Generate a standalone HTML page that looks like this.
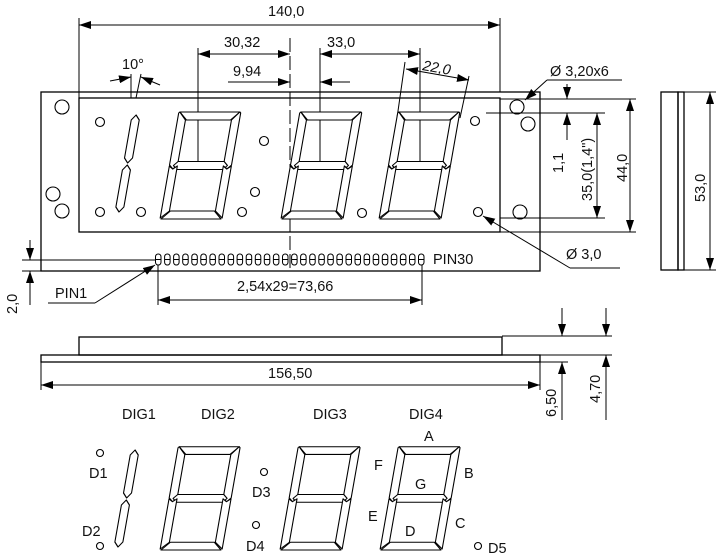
<!DOCTYPE html>
<html><head><meta charset="utf-8"><style>
html,body{margin:0;padding:0;background:#fff}
svg{display:block}
text{font-family:"Liberation Sans",Arial,sans-serif;fill:#111}
</style></head><body>
<svg width="716" height="558" viewBox="0 0 716 558" xmlns="http://www.w3.org/2000/svg">
<defs>
<marker id="ar" viewBox="0 0 12 8" refX="12" refY="4" markerWidth="12" markerHeight="8" markerUnits="userSpaceOnUse" orient="auto-start-reverse"><path d="M0,0L12,4L0,8z" fill="#000"/></marker>
<g id="dig" fill="#fff" stroke="#000" stroke-width="1.1" stroke-linejoin="round">
<polygon points="1,-107 61,-107 53,-99 9,-99"/>
<polygon points="61,-107 62,-106 62,-54 58,-50 54,-54 54,-99"/>
<polygon points="0,-106 1,-107 8,-99 8,-54 4,-50 0,-54"/>
<polygon points="4,-53.5 8,-57.5 54,-57.5 58,-53.5 54,-49.5 8,-49.5"/>
<polygon points="0,-53 4,-50 8,-53 8,-8 0,-1"/>
<polygon points="62,-53 58,-50 54,-53 54,-8 62,-1"/>
<polygon points="1,0 61,0 53,-8 9,-8"/>
</g>
<g id="one" fill="#fff" stroke="#000" stroke-width="1.1" stroke-linejoin="round">
<polygon points="4,-97 8,-92 8,-54 4,-49 0,-54 0,-92"/>
<polygon points="4,-47 8,-42 8,-5 4,0 0,-5 0,-42"/>
</g>
</defs>
<g fill="none" stroke="#000" stroke-width="1">
<rect x="41" y="92" width="499" height="179" stroke-width="1.3"/>
<rect x="79" y="98" width="421" height="134" stroke-width="1.3"/>
<line x1="290" y1="38" x2="290" y2="272" stroke-dasharray="14,4"/>
<g stroke-width="1.1">
<circle cx="100" cy="122" r="4.5"/><circle cx="264" cy="141" r="4.5"/><circle cx="100" cy="212" r="4.5"/>
<circle cx="141" cy="212" r="4.5"/><circle cx="255" cy="192" r="4.5"/><circle cx="242" cy="212" r="4.5"/>
<circle cx="362" cy="213" r="4.5"/><circle cx="475" cy="121" r="4.5"/><circle cx="478" cy="212" r="4.5"/>
<circle cx="62" cy="107" r="7"/><circle cx="53" cy="194" r="7"/><circle cx="62" cy="211" r="7"/>
<circle cx="517" cy="107" r="7"/><circle cx="528" cy="124" r="7"/><circle cx="520" cy="212" r="7"/>
</g>
<line x1="79" y1="18" x2="79" y2="98"/><line x1="500" y1="18" x2="500" y2="92"/>
<line x1="79" y1="25" x2="500" y2="25" marker-start="url(#ar)" marker-end="url(#ar)"/>
<line x1="198" y1="48" x2="198" y2="164"/>
<line x1="198" y1="54" x2="290" y2="54" marker-start="url(#ar)" marker-end="url(#ar)"/>
<line x1="228" y1="82" x2="290" y2="82" marker-end="url(#ar)"/>
<line x1="320" y1="48" x2="320" y2="164"/><line x1="420" y1="48" x2="420" y2="164"/>
<line x1="320" y1="54" x2="420" y2="54" marker-start="url(#ar)" marker-end="url(#ar)"/>
<line x1="350" y1="82" x2="320" y2="82" marker-end="url(#ar)"/>
<line x1="405" y1="62" x2="397" y2="118"/><line x1="469" y1="76" x2="460" y2="118"/>
<line x1="406" y1="69" x2="469" y2="80" marker-start="url(#ar)" marker-end="url(#ar)"/>
<line x1="131" y1="74" x2="131" y2="98"/><line x1="141" y1="74" x2="136" y2="98"/>
<line x1="110" y1="81" x2="131" y2="77" marker-end="url(#ar)"/>
<line x1="160" y1="85" x2="141" y2="77" marker-end="url(#ar)"/>
<line x1="547" y1="80" x2="622" y2="80"/><line x1="547" y1="80" x2="525" y2="100" marker-end="url(#ar)"/>
<line x1="500" y1="99" x2="636" y2="99"/><line x1="486" y1="113" x2="605" y2="113"/>
<line x1="500" y1="218" x2="605" y2="218"/><line x1="500" y1="232" x2="636" y2="232"/>
<line x1="567" y1="84" x2="567" y2="99" marker-end="url(#ar)"/>
<line x1="567" y1="140" x2="567" y2="113" marker-end="url(#ar)"/>
<line x1="597" y1="113" x2="597" y2="218" marker-start="url(#ar)" marker-end="url(#ar)"/>
<line x1="630" y1="99" x2="630" y2="232" marker-start="url(#ar)" marker-end="url(#ar)"/>
<line x1="620" y1="268" x2="570" y2="268"/><line x1="570" y1="268" x2="483" y2="216" marker-end="url(#ar)"/>
<rect x="661" y="92" width="17" height="178" stroke-width="1.3"/>
<rect x="678" y="92" width="6" height="178" stroke-width="1.3"/>
<line x1="684" y1="92" x2="716" y2="92"/><line x1="684" y1="270" x2="716" y2="270"/>
<line x1="710" y1="92" x2="710" y2="270" marker-start="url(#ar)" marker-end="url(#ar)"/>
<line x1="22" y1="260" x2="155" y2="260"/><line x1="22" y1="271" x2="41" y2="271"/>
<line x1="30" y1="240" x2="30" y2="260" marker-end="url(#ar)"/>
<line x1="30" y1="305" x2="30" y2="271" marker-end="url(#ar)"/>
<line x1="48" y1="303" x2="95" y2="303"/><line x1="95" y1="303" x2="155" y2="265" marker-end="url(#ar)"/>
<line x1="158" y1="265" x2="158" y2="305"/><line x1="422" y1="265" x2="422" y2="305"/>
<line x1="158" y1="300" x2="422" y2="300" marker-start="url(#ar)" marker-end="url(#ar)"/>
<rect x="79" y="337" width="423" height="18" stroke-width="1.3"/>
<rect x="41" y="355" width="499" height="7" stroke-width="1.3"/>
<line x1="502" y1="336" x2="612" y2="336"/><line x1="540" y1="355" x2="612" y2="355"/><line x1="540" y1="362" x2="568" y2="362"/>
<line x1="41" y1="362" x2="41" y2="390"/><line x1="540" y1="362" x2="540" y2="390"/>
<line x1="41" y1="385" x2="540" y2="385" marker-start="url(#ar)" marker-end="url(#ar)"/>
<line x1="562" y1="308" x2="562" y2="336" marker-end="url(#ar)"/>
<line x1="606" y1="308" x2="606" y2="336" marker-end="url(#ar)"/>
<line x1="562" y1="420" x2="562" y2="362" marker-end="url(#ar)"/>
<line x1="606" y1="420" x2="606" y2="355" marker-end="url(#ar)"/>
<g stroke-width="1.1">
<circle cx="100" cy="453" r="3.5"/><circle cx="100" cy="546" r="3.5"/><circle cx="264" cy="472" r="3.5"/>
<circle cx="256" cy="525" r="3.5"/><circle cx="478" cy="546" r="3.5"/>
</g>
</g>
<g id="pinrow" fill="none" stroke="#000" stroke-width="1"></g>
<use href="#one" transform="translate(115,212) skewX(-10)"/>
<use href="#dig" transform="translate(160,219) skewX(-10)"/>
<use href="#dig" transform="translate(281,219) skewX(-10)"/>
<use href="#dig" transform="translate(379,219) skewX(-10)"/>
<use href="#one" transform="translate(114,547) skewX(-10)"/>
<use href="#dig" transform="translate(160,550) skewX(-10) scale(1,0.965)"/>
<use href="#dig" transform="translate(280,550) skewX(-10) scale(1,0.965)"/>
<use href="#dig" transform="translate(380,550) skewX(-10) scale(1,0.965)"/>
<g font-size="14.5">
<text x="268" y="16">140,0</text>
<text x="224" y="47">30,32</text>
<text x="233" y="76">9,94</text>
<text x="327" y="47">33,0</text>
<text x="422" y="70" transform="rotate(10 422 70)" font-style="italic">22,0</text>
<text x="122" y="69">10°</text>
<text x="550" y="76">Ø  3,20x6</text>
<text x="566" y="259">Ø 3,0</text>
<text x="433" y="264">PIN30</text>
<text x="55" y="298">PIN1</text>
<text x="237" y="291">2,54x29=73,66</text>
<text x="268" y="378">156,50</text>
<text transform="translate(17,314) rotate(-90)">2,0</text>
<text transform="translate(563,173) rotate(-90)">1,1</text>
<text transform="translate(592,201) rotate(-90)">35,0(1,4")</text>
<text transform="translate(627,182) rotate(-90)">44,0</text>
<text transform="translate(705,202) rotate(-90)">53,0</text>
<text transform="translate(556,417) rotate(-90)">6,50</text>
<text transform="translate(600,403) rotate(-90)">4,70</text>
<text x="122" y="419">DIG1</text>
<text x="201" y="419">DIG2</text>
<text x="313" y="419">DIG3</text>
<text x="409" y="419">DIG4</text>
<text x="89" y="478">D1</text>
<text x="82" y="536">D2</text>
<text x="252" y="497">D3</text>
<text x="246" y="551">D4</text>
<text x="488" y="553">D5</text>
<text x="424" y="441">A</text>
<text x="374" y="470">F</text>
<text x="464" y="478">B</text>
<text x="415" y="489">G</text>
<text x="368" y="521">E</text>
<text x="405" y="536">D</text>
<text x="455" y="528">C</text>
</g>
</svg>
<script>
(function(){var g=document.getElementById('pinrow');var s='';for(var i=0;i<30;i++){var x=155.5+i*9.07;s+='<rect x="'+x.toFixed(1)+'" y="254" width="5.5" height="11" rx="2.7"/><line x1="'+x.toFixed(1)+'" y1="259.5" x2="'+(x+5.5).toFixed(1)+'" y2="259.5"/>';}g.innerHTML=s;})();
</script>
</body></html>
